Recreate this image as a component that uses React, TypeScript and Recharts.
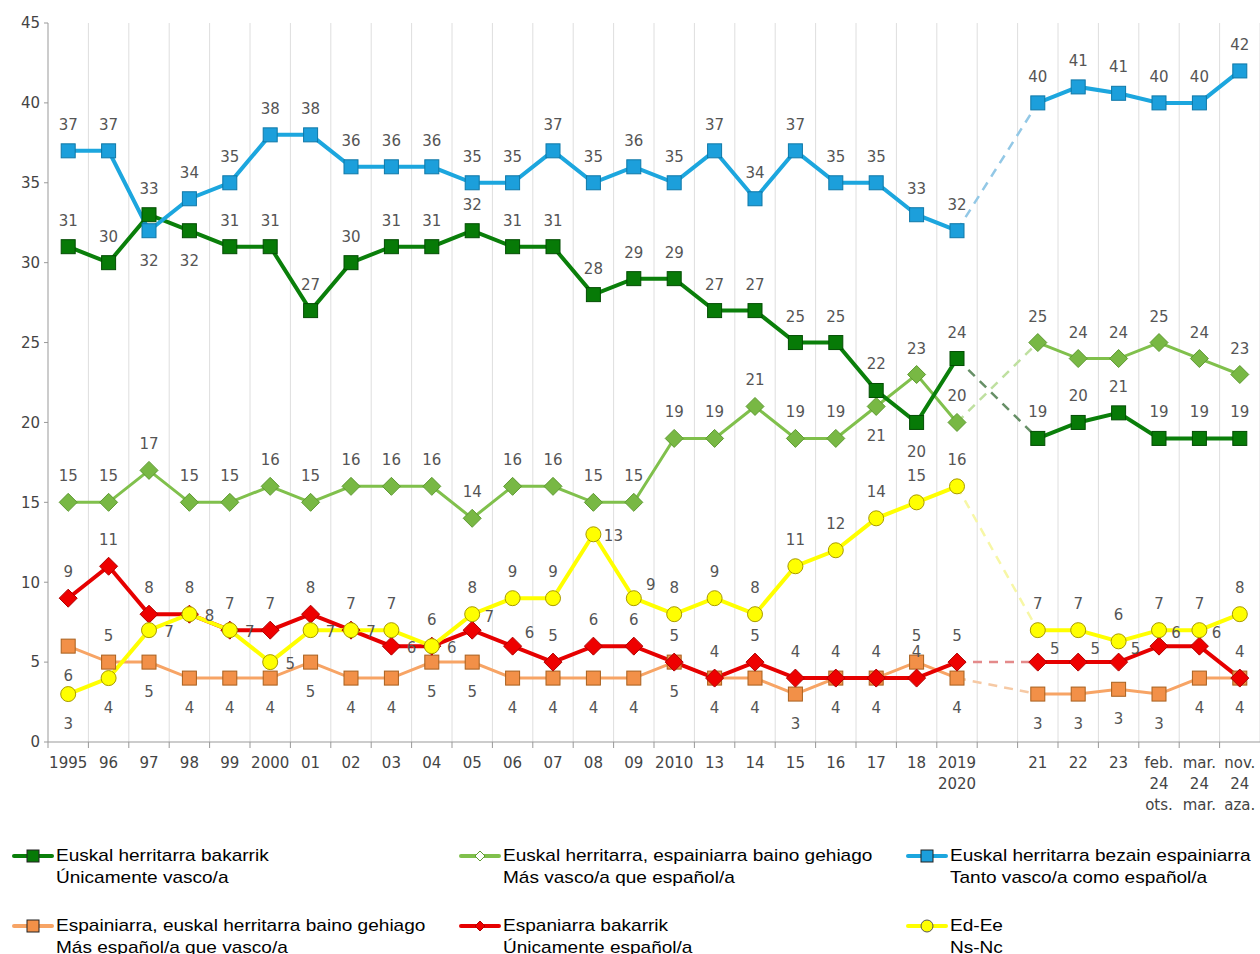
import React from "react";
import { LineChart, Line, XAxis, YAxis, CartesianGrid, LabelList } from "recharts";

const categories = [
  "1995", "96", "97", "98", "99", "2000", "01", "02", "03", "04", "05", "06", "07", "08", "09",
  "2010", "13", "14", "15", "16", "17", "18", "2019\n2020", "", "21", "22", "23",
  "feb.\n24\nots.", "mar.\n24\nmar.", "nov.\n24\naza.",
];

// null = gap between 2019/2020 and 2021
const onlyBasque = [31, 30, 33, 32, 31, 31, 27, 30, 31, 31, 32, 31, 31, 28, 29, 29, 27, 27, 25, 25, 22, 20, 24, null, 19, 20, 20.6, 19, 19, 19];
const moreBasque = [15, 15, 17, 15, 15, 16, 15, 16, 16, 16, 14, 16, 16, 15, 15, 19, 19, 21, 19, 19, 21, 23, 20, null, 25, 24, 24, 25, 24, 23];
const bothEqual = [37, 37, 32, 34, 35, 38, 38, 36, 36, 36, 35, 35, 37, 35, 36, 35, 37, 34, 37, 35, 35, 33, 32, null, 40, 41, 40.6, 40, 40, 42];
const moreSpanish = [6, 5, 5, 4, 4, 4, 5, 4, 4, 5, 5, 4, 4, 4, 4, 5, 4, 4, 3, 4, 4, 5, 4, null, 3, 3, 3.3, 3, 4, 4];
const onlySpanish = [9, 11, 8, 8, 7, 7, 8, 7, 6, 6, 7, 6, 5, 6, 6, 5, 4, 5, 4, 4, 4, 4, 5, null, 5, 5, 5, 6, 6, 4];
const dontKnow = [3, 4, 7, 8, 7, 5, 7, 7, 7, 6, 8, 9, 9, 13, 9, 8, 9, 8, 11, 12, 14, 15, 16, null, 7, 7, 6.3, 7, 7, 8];

const yTicks = [0, 5, 10, 15, 20, 25, 30, 35, 40, 45];

const BEFORE = 22;
const AFTER = 24;

// where a value label sits when it is not the series default
const labelOverrides: Record<string, Record<number, string>> = {
  moreSpanish: { 1: "above", 21: "above" },
  onlySpanish: { 8: "right", 9: "right", 10: "upright", 11: "upright", 24: "upright", 25: "upright", 26: "upright", 27: "upright", 28: "upright" },
  dontKnow: { 0: "below", 1: "below", 2: "right", 3: "right", 4: "right", 5: "right", 6: "right", 7: "right", 13: "right", 14: "upright" },
  moreBasque: { 20: "below" },
  onlyBasque: { 3: "below", 21: "below" },
  bothEqual: { 2: "below" },
};

const series = [
  { key: "moreSpanish", values: moreSpanish, line: "#f7a465", fill: "#f29048", border: "#a8601e", dash: "#f6c9a4", shape: "square", width: 3, label: "below",
    eu: "Espainiarra, euskal herritarra baino gehiago", es: "Más español/a que vasco/a" },
  { key: "onlySpanish", values: onlySpanish, line: "#e60000", fill: "#ee0000", border: "#b00000", dash: "#e48a8a", shape: "diamond", width: 4, label: "above",
    eu: "Espaniarra bakarrik", es: "Únicamente español/a" },
  { key: "dontKnow", values: dontKnow, line: "#ffff00", fill: "#ffff00", border: "#a89a00", dash: "#f7f7a6", shape: "circle", width: 4, label: "above",
    eu: "Ed-Ee", es: "Ns-Nc" },
  { key: "moreBasque", values: moreBasque, line: "#80c04c", fill: "#78b844", border: "#5e9a32", dash: "#bfe0a0", shape: "diamond", width: 3, label: "above",
    eu: "Euskal herritarra, espainiarra baino gehiago", es: "Más vasco/a que español/a" },
  { key: "onlyBasque", values: onlyBasque, line: "#0a7f0a", fill: "#077a07", border: "#034d03", dash: "#668f66", shape: "square", width: 4, label: "above",
    eu: "Euskal herritarra bakarrik", es: "Únicamente vasco/a" },
  { key: "bothEqual", values: bothEqual, line: "#1ca6de", fill: "#1c9fdb", border: "#0f78a8", dash: "#93c8e6", shape: "square", width: 4, label: "above",
    eu: "Euskal herritarra bezain espainiarra", es: "Tanto vasco/a como español/a" },
];

const data = categories.map((cat, i) => {
  const row: any = { cat };
  series.forEach((s) => {
    row[s.key] = s.values[i];
    row[s.key + "Bridge"] = i === BEFORE || i === AFTER ? s.values[i] : null;
  });
  return row;
});

const WIDTH = 1260;
const HEIGHT = 820;
const Y_AXIS_W = 48;
const BAND = (WIDTH - Y_AXIS_W) / categories.length;
const NUM_FONT = "DejaVu Sans, sans-serif";

const makeDot = (s: any) => (props: any) => {
  const { cx, cy, index } = props;
  if (cx == null || cy == null || props.value == null || Number.isNaN(cy)) return <g key={"d" + index} />;
  if (s.shape === "square") {
    const h = 7;
    return <rect key={"d" + index} x={cx - h} y={cy - h} width={h * 2} height={h * 2} fill={s.fill} stroke={s.border} strokeWidth={1} />;
  }
  if (s.shape === "diamond") {
    const h = 9;
    return (
      <polygon key={"d" + index} points={`${cx},${cy - h} ${cx + h},${cy} ${cx},${cy + h} ${cx - h},${cy}`} fill={s.fill} stroke={s.border} strokeWidth={1} />
    );
  }
  return <circle key={"d" + index} cx={cx} cy={cy} r={7.5} fill={s.fill} stroke={s.border} strokeWidth={1} />;
};

const makeLabel = (s: any) => (props: any) => {
  const { x, y, value, index } = props;
  if (value == null || x == null || y == null) return null;
  const side = (labelOverrides[s.key] || {})[index] || s.label;
  let lx = x;
  let ly = y - 21;
  if (side === "below") ly = y + 35;
  if (side === "right") {
    lx = x + 20;
    ly = y + 7;
  }
  if (side === "upright") {
    lx = x + 17;
    ly = y - 8;
  }
  return (
    <text key={"l" + index} x={lx} y={ly} textAnchor="middle" fill="#555" fontSize={15} fontFamily={NUM_FONT}>
      {Math.round(value)}
    </text>
  );
};

const XTick = (props: any) => {
  const { x, y, payload } = props;
  const lines = String(payload.value).split("\n");
  return (
    <g>
      <line x1={x - BAND / 2} x2={x - BAND / 2} y1={y} y2={y + 6} stroke="#999" />
      <text x={x} y={y + 26} textAnchor="middle" fill="#444" fontSize={15} fontFamily={NUM_FONT}>
        {lines.map((ln, i) => (
          <tspan key={i} x={x} dy={i === 0 ? 0 : 21}>
            {ln}
          </tspan>
        ))}
      </text>
    </g>
  );
};

const LegendIcon = ({ s }: { s: any }) => (
  <svg width={44} height={16} style={{ position: "absolute", left: -44, top: 3 }}>
    <line x1={2} x2={40} y1={8} y2={8} stroke={s.line} strokeWidth={4} strokeLinecap="round" />
    {s.shape === "square" && <rect x={15} y={2} width={12} height={12} fill={s.fill} stroke="#222" strokeWidth={1} />}
    {s.shape === "diamond" && (
      <polygon points="21,3 26,8 21,13 16,8" fill={s.key === "moreBasque" ? "#fff" : s.fill} stroke={s.border} strokeWidth={1} />
    )}
    {s.shape === "circle" && <circle cx={21} cy={8} r={6} fill={s.fill} stroke="#555" strokeWidth={1} />}
  </svg>
);

const legendOrder = ["onlyBasque", "moreBasque", "bothEqual", "moreSpanish", "onlySpanish", "dontKnow"];
const legendCols = [56, 503, 950];
const legendRows = [845, 915];

export default function App() {
  return (
    <div style={{ position: "absolute", left: 0, top: 0, width: WIDTH, height: 954, background: "#fff", overflow: "hidden" }}>
      <LineChart width={WIDTH} height={HEIGHT} data={data} margin={{ top: 23, right: 0, bottom: 0, left: 0 }}>
        <CartesianGrid
          horizontal={false}
          stroke="#dedede"
          verticalCoordinatesGenerator={({ offset }: any) =>
            categories.map((_, k) => offset.left + (k + 1) * (offset.width / categories.length))
          }
        />
        <XAxis
          dataKey="cat"
          interval={0}
          height={78}
          tickSize={0}
          tickMargin={0}
          padding={{ left: BAND / 2, right: BAND / 2 }}
          stroke="#999"
          tick={<XTick />}
        />
        <YAxis
          width={Y_AXIS_W}
          domain={[0, 45]}
          ticks={yTicks}
          interval={0}
          tickSize={4}
          tickMargin={4}
          stroke="#999"
          tick={{ fill: "#444", fontSize: 15, fontFamily: NUM_FONT }}
        />
        {series.map((s) => (
          <Line
            key={s.key + "Bridge"}
            dataKey={s.key + "Bridge"}
            stroke={s.dash}
            strokeWidth={2.5}
            strokeDasharray="9 7"
            connectNulls
            dot={false}
            activeDot={false}
            isAnimationActive={false}
          />
        ))}
        {series.map((s) => (
          <Line
            key={s.key}
            dataKey={s.key}
            stroke={s.line}
            strokeWidth={s.width}
            dot={makeDot(s)}
            activeDot={false}
            isAnimationActive={false}
          >
            <LabelList dataKey={s.key} content={makeLabel(s)} />
          </Line>
        ))}
      </LineChart>
      {legendOrder.map((k, i) => {
        const s: any = series.find((x) => x.key === k);
        return (
          <div
            key={k}
            style={{
              position: "absolute",
              left: legendCols[i % 3],
              top: legendRows[Math.floor(i / 3)],
              fontFamily: "Liberation Sans, Arial, sans-serif",
              fontSize: 17,
              lineHeight: "22px",
              color: "#000",
              whiteSpace: "nowrap",
            }}
          >
            <LegendIcon s={s} />
            <div style={{ transform: "scaleX(1.12)", transformOrigin: "left center" }}>
              <div>{s.eu}</div>
              <div>{s.es}</div>
            </div>
          </div>
        );
      })}
    </div>
  );
}
